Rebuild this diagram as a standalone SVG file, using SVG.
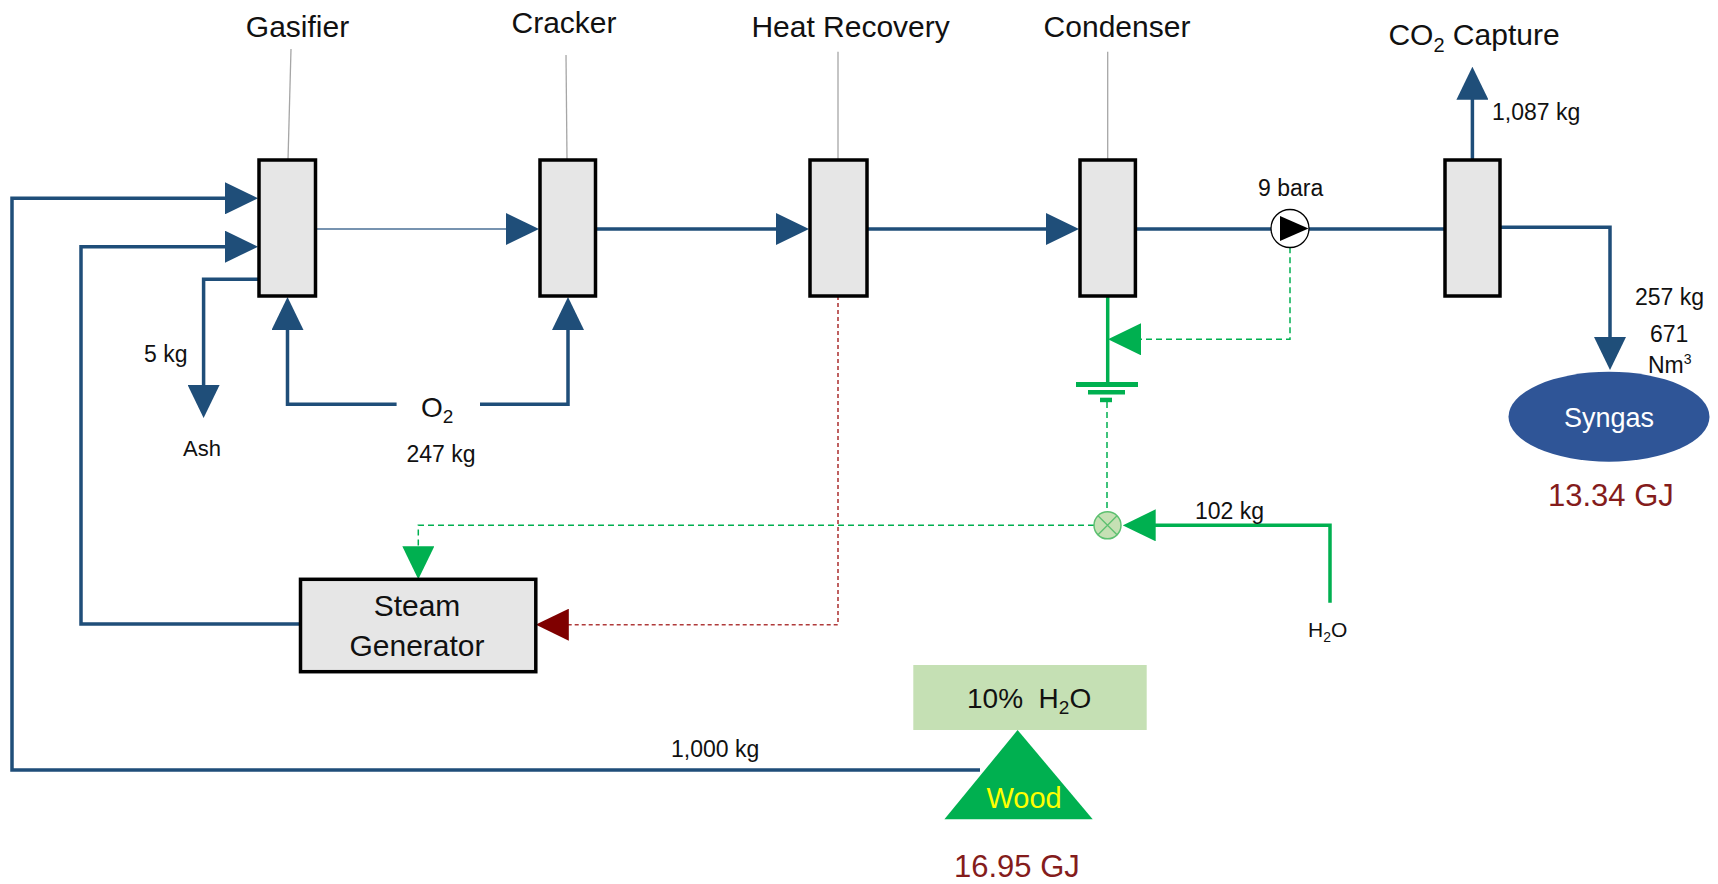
<svg xmlns="http://www.w3.org/2000/svg" width="1718" height="884" viewBox="0 0 1718 884">
<style>
text{font-family:"Liberation Sans",Arial,sans-serif;fill:#111}
.unit{fill:#E6E6E6;stroke:#000;stroke-width:3.5}
.lead{stroke:#A6A6A6;stroke-width:1.3;fill:none}
.pipe{stroke:#1F4E79;stroke-width:3.5;fill:none}
.thin{stroke:#4A6F96;stroke-width:1.6;fill:none}
.water{stroke:#00B050;stroke-width:3.5;fill:none}
.sig{stroke:#00B050;stroke-width:1.5;fill:none;stroke-dasharray:6 4}
.heat{stroke:#B03A3A;stroke-width:1.6;fill:none;stroke-dasharray:4 3}
.t30{font-size:30px}
.t23{font-size:23px}
.gj{font-size:31px;fill:#841C1C}
</style>
<defs>
<marker id="ab" viewBox="0 0 33 32" refX="23" refY="16" markerWidth="33" markerHeight="32" markerUnits="userSpaceOnUse" orient="auto"><path d="M0,0 L33,16 L0,32 z" fill="#1F4E79"/></marker>
<marker id="ag" viewBox="0 0 33 32" refX="23" refY="16" markerWidth="33" markerHeight="32" markerUnits="userSpaceOnUse" orient="auto"><path d="M0,0 L33,16 L0,32 z" fill="#00B050"/></marker>
<marker id="ar" viewBox="0 0 33 32" refX="23" refY="16" markerWidth="33" markerHeight="32" markerUnits="userSpaceOnUse" orient="auto"><path d="M0,0 L33,16 L0,32 z" fill="#7F0000"/></marker>
</defs>

<g id="connectors">
<path class="pipe" d="M980,770 H12 V198.3 H248" marker-end="url(#ab)"/>
<path class="pipe" d="M300.5,624 H81 V246.7 H248" marker-end="url(#ab)"/>
<path class="pipe" d="M259,279.3 H203.6 V408" marker-end="url(#ab)"/>
<path class="thin" d="M315.5,229 H529" marker-end="url(#ab)"/>
<path class="pipe" d="M595.5,229 H799" marker-end="url(#ab)"/>
<path class="pipe" d="M867,229 H1069" marker-end="url(#ab)"/>
<path class="pipe" d="M1135,229 H1271"/>
<path class="pipe" d="M1309,229 H1445"/>
<path class="pipe" d="M396.6,404.3 H287.5 V307" marker-end="url(#ab)"/>
<path class="pipe" d="M480,404.3 H568 V307" marker-end="url(#ab)"/>
<path class="pipe" d="M1472.4,160 V76.7" marker-end="url(#ab)"/>
<path class="pipe" d="M1500,227.3 H1610 V360" marker-end="url(#ab)"/>
<path class="water" d="M1107.7,296 V382"/>
<path class="water" d="M1330,602.7 V525.3 H1132.7" marker-end="url(#ag)"/>
<path class="sig" d="M1290,247.3 V339.3 H1118" marker-end="url(#ag)"/>
<path class="sig" d="M1107,402 V511.8"/>
<path class="sig" d="M1094,525.3 H418.3 V569.3" marker-end="url(#ag)"/>
<path class="heat" d="M838,296 V624.7 H545.8" marker-end="url(#ar)"/>
</g>

<g id="gasifier">
<line class="lead" x1="291" y1="49" x2="288" y2="160"/>
<rect class="unit" x="259" y="160" width="56.5" height="136"/>
<text class="t30" x="297.5" y="37" text-anchor="middle">Gasifier</text>
</g>
<g id="cracker">
<line class="lead" x1="566" y1="55" x2="567" y2="160"/>
<rect class="unit" x="540" y="160" width="55.5" height="136"/>
<text class="t30" x="564" y="33" text-anchor="middle">Cracker</text>
</g>
<g id="heat-recovery">
<line class="lead" x1="838" y1="51.7" x2="838" y2="160"/>
<rect class="unit" x="810" y="160" width="57" height="136"/>
<text class="t30" x="850.6" y="37" text-anchor="middle">Heat Recovery</text>
</g>
<g id="condenser">
<line class="lead" x1="1107.7" y1="51.7" x2="1107.7" y2="160"/>
<rect class="unit" x="1080" y="160" width="55.4" height="136"/>
<text class="t30" x="1117" y="37" text-anchor="middle">Condenser</text>
</g>
<g id="co2-capture">
<rect class="unit" x="1445" y="160" width="55" height="136"/>
<text class="t30" x="1388.4" y="45">CO<tspan font-size="20" dy="7">2</tspan><tspan dy="-7"> Capture</tspan></text>
<text class="t23" x="1492" y="120">1,087 kg</text>
</g>
<g id="pump">
<circle cx="1290" cy="228.5" r="19" fill="#fff" stroke="#000" stroke-width="1.3"/>
<polygon points="1280,216 1280,241 1308.5,228.5" fill="#000"/>
<text class="t23" x="1258" y="196">9 bara</text>
</g>
<g id="ground">
<rect x="1076" y="382" width="62" height="5" fill="#00B050"/>
<rect x="1088" y="390" width="37" height="4.5" fill="#00B050"/>
<rect x="1100" y="397.7" width="12" height="4.5" fill="#00B050"/>
</g>
<g id="mixer">
<circle cx="1107.5" cy="525.3" r="13.5" fill="#C5E0B4" stroke="#5CC070" stroke-width="1.5"/>
<path d="M1098,515.8 L1117,534.8 M1117,515.8 L1098,534.8" stroke="#5CC070" stroke-width="1.3"/>
<text class="t23" x="1195" y="519">102 kg</text>
<text x="1308" y="637" font-size="21">H<tspan font-size="14" dy="5">2</tspan><tspan dy="-5">O</tspan></text>
</g>
<g id="steam-generator">
<rect class="unit" x="300.5" y="579.3" width="235.3" height="92.4"/>
<text class="t30" x="417" y="616" text-anchor="middle">Steam</text>
<text class="t30" x="417" y="656" text-anchor="middle">Generator</text>
</g>
<g id="syngas">
<ellipse cx="1609" cy="416.7" rx="100.5" ry="45" fill="#2F5597"/>
<text x="1609" y="427" font-size="27" text-anchor="middle" style="fill:#fff">Syngas</text>
<text class="t23" x="1635" y="305">257 kg</text>
<text class="t23" x="1650" y="342">671</text>
<text class="t23" x="1648" y="373">Nm<tspan font-size="14" dy="-9">3</tspan></text>
<text class="gj" x="1548" y="506">13.34 GJ</text>
</g>
<g id="ash">
<text class="t23" x="144" y="362">5 kg</text>
<text x="183" y="456" font-size="22">Ash</text>
</g>
<g id="oxygen">
<text x="421" y="417" font-size="28">O<tspan font-size="19" dy="6">2</tspan></text>
<text class="t23" x="406.5" y="462">247 kg</text>
</g>
<g id="wood">
<rect x="913.3" y="665" width="233.4" height="65" fill="#C5E0B4"/>
<text x="967" y="708" font-size="28">10%&#160;&#160;H<tspan font-size="19" dy="6">2</tspan><tspan dy="-6">O</tspan></text>
<polygon points="1017.6,730 944.4,819.3 1092.7,819.3" fill="#00B050"/>
<text x="986.5" y="808" font-size="29" style="fill:#FFFF00">Wood</text>
<text class="t23" x="671" y="757">1,000 kg</text>
<text class="gj" x="954" y="877">16.95 GJ</text>
</g>
</svg>
